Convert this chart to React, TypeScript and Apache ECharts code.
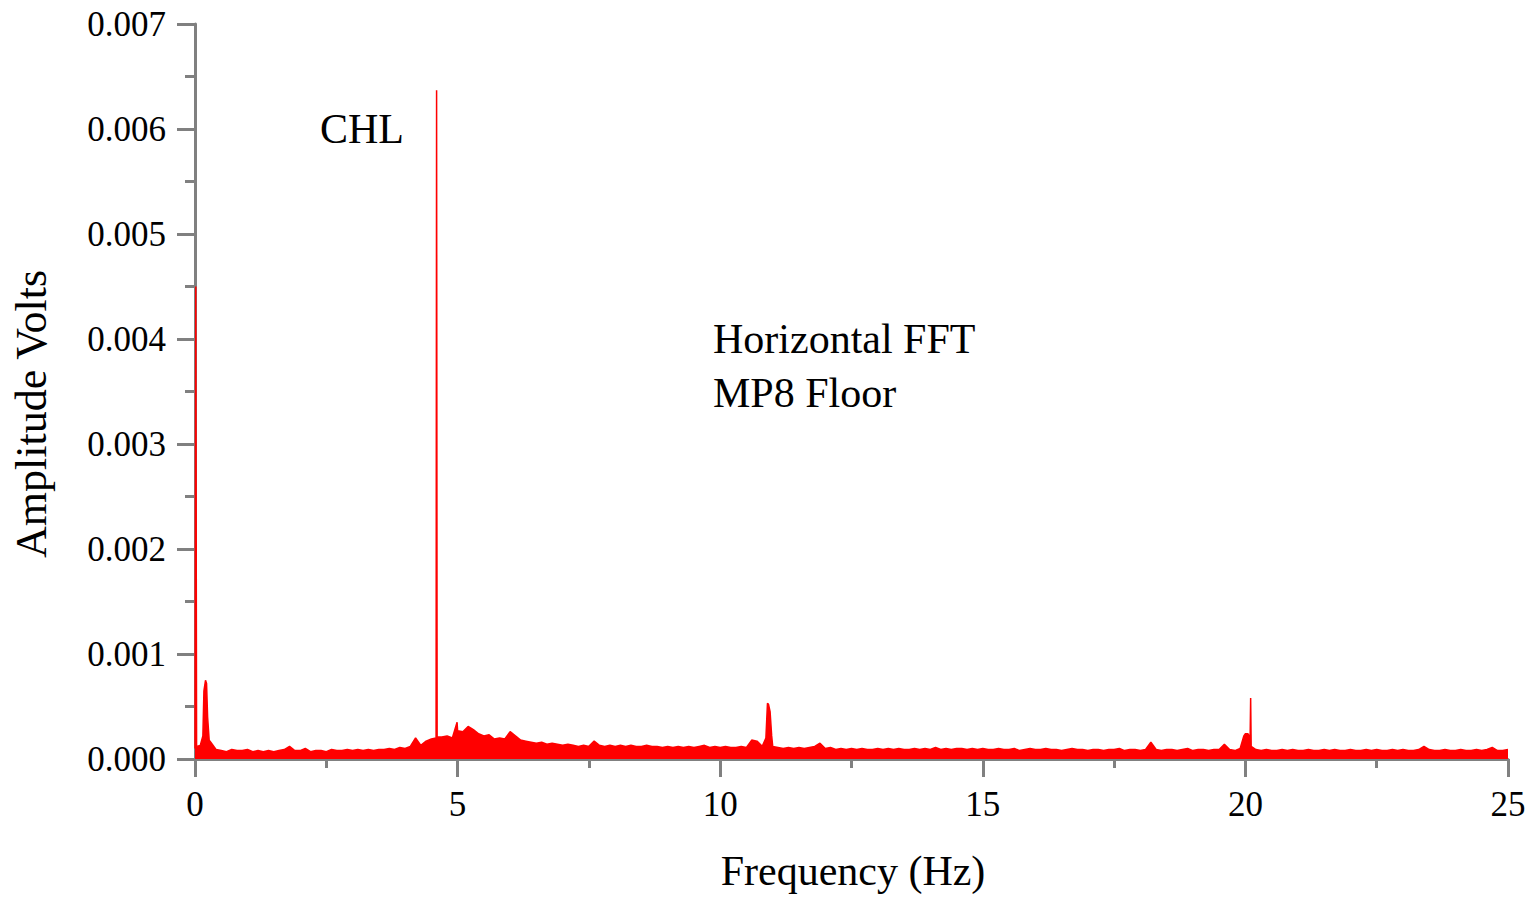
import React, { useEffect, useRef } from "react";
import * as echarts from "echarts";

// Noise floor amplitude (units of 1e-5 V) sampled every 0.1 Hz from 0 to 25 Hz
const noiseAmps: number[] = [
  10, 13, 75, 16, 9, 8, 7, 9, 8, 8,
  9, 7, 8, 7, 8, 7, 8, 9, 12, 8,
  8, 10, 7, 8, 8, 7, 9, 8, 8, 9,
  8, 9, 8, 9, 8, 9, 9, 10, 9, 11,
  10, 12, 20, 13, 17, 19, 637, 21, 22, 20,
  27, 26, 31, 28, 24, 22, 23, 19, 20, 19,
  26, 22, 18, 17, 16, 15, 16, 14, 15, 14,
  13, 14, 13, 12, 13, 12, 17, 13, 12, 13,
  12, 13, 12, 13, 12, 12, 13, 12, 12, 11,
  12, 11, 12, 11, 12, 11, 12, 13, 11, 12,
  11, 12, 11, 11, 12, 11, 18, 17, 12, 53,
  12, 11, 10, 11, 10, 11, 10, 11, 12, 15,
  10, 11, 9, 10, 9, 10, 9, 10, 9, 9,
  10, 9, 10, 9, 10, 9, 9, 10, 9, 10,
  9, 11, 9, 10, 9, 10, 10, 9, 10, 9,
  10, 9, 9, 10, 9, 9, 10, 8, 9, 10,
  9, 9, 10, 9, 9, 8, 9, 10, 9, 9,
  8, 9, 9, 8, 9, 9, 10, 8, 9, 9,
  8, 9, 16, 9, 8, 9, 9, 8, 9, 10,
  8, 9, 9, 8, 9, 9, 14, 9, 8, 10,
  24, 58, 9, 8, 9, 8, 8, 9, 8, 9,
  8, 8, 9, 8, 8, 9, 8, 9, 8, 8,
  9, 8, 8, 9, 8, 9, 8, 8, 9, 8,
  9, 8, 8, 9, 12, 9, 8, 8, 9, 8,
  8, 9, 8, 8, 9, 8, 9, 11, 8, 8,
  9,
];

// Extra points describing narrow peaks: frequency (Hz) and amplitude (1e-5 V)
const peakFreqs: number[] = [0.015, 0.03, 0.15, 0.17, 0.22, 0.24, 0.27, 4.59, 4.61, 4.99, 10.87, 10.92, 10.95, 10.98, 19.97, 20.05, 20.09, 20.11];
const peakAmps: number[] = [450, 12, 22, 65, 72, 40, 18, 20, 21, 35, 20, 52, 45, 22, 22, 24, 20, 12];

const xTicks: number[] = [0, 5, 10, 15, 20, 25];
const yTicks: number[] = [0, 0.001, 0.002, 0.003, 0.004, 0.005, 0.006, 0.007];

const FONT = "Liberation Serif";

export default function App() {
  const ref = useRef<HTMLDivElement>(null);
  useEffect(() => {
    if (!ref.current) return;
    const chart = echarts.init(ref.current, undefined, { renderer: "svg" });
    const pts: [number, number][] = [];
    noiseAmps.forEach((a, i) => pts.push([Number((i * 0.1).toFixed(1)), a * 1e-5]));
    peakFreqs.forEach((f, i) => pts.push([f, peakAmps[i] * 1e-5]));
    pts.sort((a, b) => a[0] - b[0]);

    const axisGray = "#808080";
    chart.setOption({
      animation: false,
      backgroundColor: "#ffffff",
      grid: { left: 195, right: 30, top: 24, bottom: 137, containLabel: false },
      xAxis: {
        type: "value",
        min: xTicks[0],
        max: xTicks[xTicks.length - 1],
        interval: 5,
        name: "Frequency (Hz)",
        nameLocation: "middle",
        nameGap: 91,
        nameTextStyle: { fontFamily: FONT, fontSize: 42, color: "#000", padding: [0, 0, 0, 3] },
        axisLine: { show: true, lineStyle: { color: axisGray, width: 3 } },
        axisTick: { show: true, length: 18, lineStyle: { color: axisGray, width: 3 } },
        minorTick: { show: true, splitNumber: 2, length: 9, lineStyle: { color: axisGray, width: 3 } },
        splitLine: { show: false },
        axisLabel: { fontFamily: FONT, fontSize: 35, color: "#000", margin: 28 },
      },
      yAxis: {
        type: "value",
        min: yTicks[0],
        max: yTicks[yTicks.length - 1],
        interval: 0.001,
        axisLine: { show: true, lineStyle: { color: axisGray, width: 3 } },
        axisTick: { show: true, length: 18, lineStyle: { color: axisGray, width: 3 } },
        minorTick: { show: true, splitNumber: 2, length: 10, lineStyle: { color: axisGray, width: 3 } },
        splitLine: { show: false },
        axisLabel: {
          fontFamily: FONT,
          fontSize: 35,
          color: "#000",
          margin: 29,
          formatter: (v: number) => v.toFixed(3),
        },
      },
      graphic: [
        {
          type: "text",
          x: 31,
          y: 414,
          rotation: Math.PI / 2,
          style: {
            text: "Amplitude Volts",
            font: `44px "${FONT}"`,
            fill: "#000",
            textAlign: "center",
            textVerticalAlign: "middle",
          },
        },
        { type: "text", left: 320, top: 108, style: { text: "CHL", font: `42px "${FONT}"`, fill: "#000" } },
        { type: "text", left: 713, top: 318, style: { text: "Horizontal FFT", font: `42px "${FONT}"`, fill: "#000" } },
        { type: "text", left: 713, top: 372, style: { text: "MP8 Floor", font: `42px "${FONT}"`, fill: "#000" } },
      ],
      series: [
        {
          type: "line",
          data: pts,
          showSymbol: false,
          symbol: "none",
          lineStyle: { color: "#ff0000", width: 1.5 },
          areaStyle: { color: "#ff0000", opacity: 1 },
          itemStyle: { color: "#ff0000" },
        },
      ],
    });
    return () => chart.dispose();
  }, []);
  return (
    <div
      ref={ref}
      style={{ position: "fixed", left: 0, top: 0, width: 1538, height: 897, background: "#fff" }}
    />
  );
}
